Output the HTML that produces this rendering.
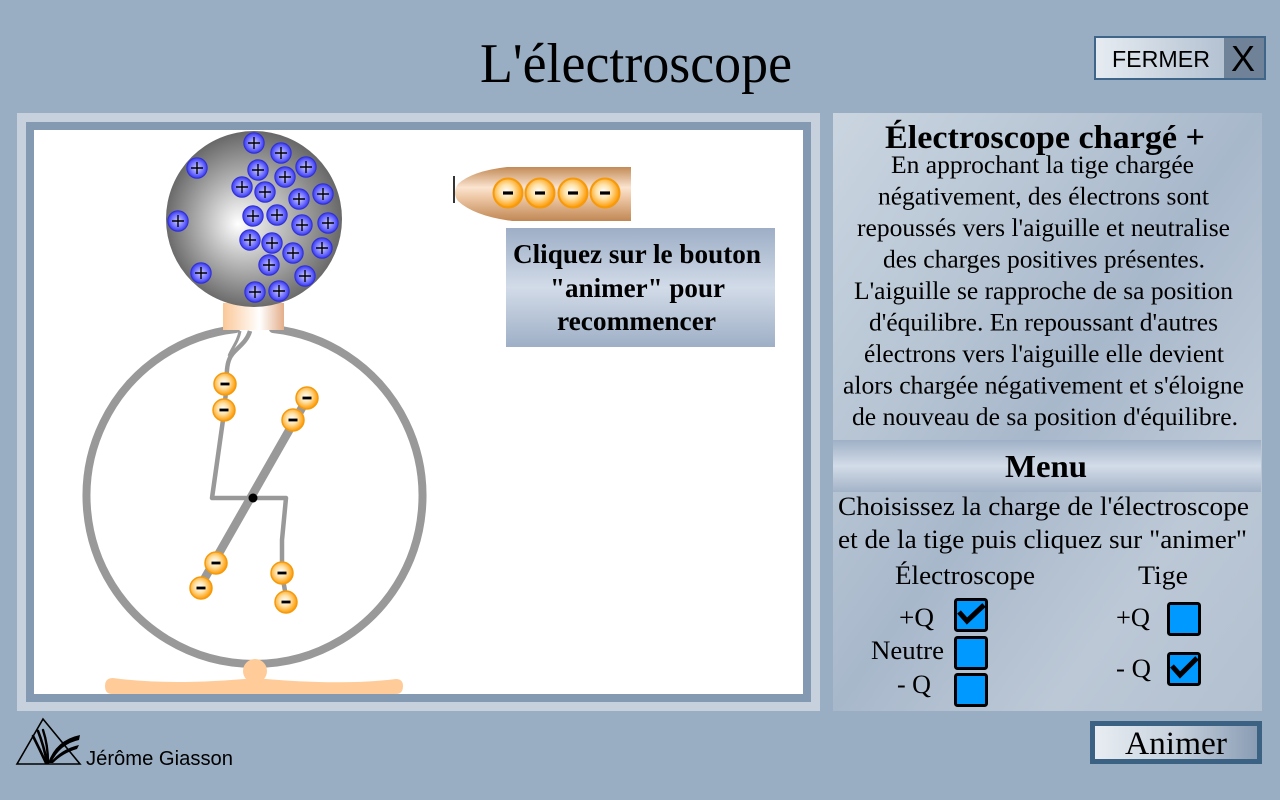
<!DOCTYPE html>
<html><head><meta charset="utf-8"><style>
html,body{margin:0;padding:0;background:#9aaec3;}
svg{display:block;}
</style></head><body>
<svg width="1280" height="800" viewBox="0 0 1280 800" xmlns="http://www.w3.org/2000/svg">
<defs>
<radialGradient id="sph" gradientUnits="userSpaceOnUse" cx="254" cy="220" r="90" fx="238" fy="224">
<stop offset="0" stop-color="#ffffff"/><stop offset="0.45" stop-color="#bababa"/><stop offset="1" stop-color="#666666"/></radialGradient>
<linearGradient id="neck" x1="0" x2="1" y1="0" y2="0">
<stop offset="0" stop-color="#fbc898"/><stop offset="0.6" stop-color="#ffffff"/><stop offset="1" stop-color="#e3ae8a"/></linearGradient>
<linearGradient id="rod" x1="0" x2="0" y1="0" y2="1">
<stop offset="0" stop-color="#c38a56"/><stop offset="0.38" stop-color="#fbe4d0"/><stop offset="0.55" stop-color="#efcaa9"/><stop offset="1" stop-color="#c18754"/></linearGradient>
<linearGradient id="msg" x1="0" x2="0" y1="0" y2="1">
<stop offset="0" stop-color="#9daec6"/><stop offset="0.5" stop-color="#d2dbe8"/><stop offset="1" stop-color="#9eafc6"/></linearGradient>
<linearGradient id="panel" x1="0" y1="0" x2="1" y2="1">
<stop offset="0" stop-color="#cad5e0"/><stop offset="0.3" stop-color="#b7c5d4"/><stop offset="0.5" stop-color="#a8b8cb"/><stop offset="0.75" stop-color="#bcc8d6"/><stop offset="1" stop-color="#b2c0d0"/></linearGradient>
<linearGradient id="band" x1="0" x2="0" y1="0" y2="1">
<stop offset="0" stop-color="#9fb0c6"/><stop offset="0.5" stop-color="#d3dce8"/><stop offset="1" stop-color="#a3b3c8"/></linearGradient>
<linearGradient id="btn1" x1="0" x2="1" y1="0" y2="0">
<stop offset="0" stop-color="#e7ecf2"/><stop offset="1" stop-color="#a3b4c7"/></linearGradient>
<linearGradient id="btn2" x1="0" x2="1" y1="0" y2="0">
<stop offset="0" stop-color="#e9eef3"/><stop offset="0.5" stop-color="#c7d1dd"/><stop offset="1" stop-color="#889bb3"/></linearGradient>
<radialGradient id="eg" cx="0.45" cy="0.45" r="0.55">
<stop offset="0" stop-color="#ffffff"/><stop offset="0.45" stop-color="#ffe2a8"/><stop offset="1" stop-color="#ff9a00"/></radialGradient>
<radialGradient id="pg" cx="0.5" cy="0.5" r="0.55">
<stop offset="0" stop-color="#d0d0ff"/><stop offset="0.55" stop-color="#7878ff"/><stop offset="1" stop-color="#2626ee"/></radialGradient>
<g id="el"><circle r="11" fill="url(#eg)" stroke="#f59a0c" stroke-width="1.5"/><rect x="-4.5" y="-1.4" width="9" height="2.8" fill="#000"/></g>
<g id="elb"><circle r="14.5" fill="url(#eg)" stroke="#f59a0c" stroke-width="2"/><rect x="-5" y="-1.6" width="10" height="3.2" fill="#000"/></g>
<g id="pr"><circle r="10.2" fill="url(#pg)" stroke="#3030d0" stroke-width="1"/><path d="M-6 0H6M0 -6V6" stroke="#000" stroke-width="1.4"/></g>
</defs>

<!-- title -->
<text x="480" y="82" font-family="Liberation Serif, serif" font-size="56" textLength="312" lengthAdjust="spacingAndGlyphs" fill="#000">L'électroscope</text>

<!-- FERMER button -->
<rect x="1095" y="37" width="170" height="42" fill="url(#btn1)" stroke="#3f6589" stroke-width="2"/>
<rect x="1224" y="38" width="40" height="40" fill="#6f8298"/>
<text x="1112" y="67" font-family="Liberation Sans, sans-serif" font-size="23" textLength="98" lengthAdjust="spacingAndGlyphs" fill="#000">FERMER</text>
<text x="1231" y="71" font-family="Liberation Sans, sans-serif" font-size="36" fill="#000">X</text>

<!-- left frame -->
<rect x="17" y="113" width="803" height="598" fill="#c6d1dd"/>
<rect x="26" y="122" width="785" height="580" fill="#8499b2"/>
<rect x="34" y="130" width="769" height="564" fill="#ffffff"/>

<!-- ring -->
<path d="M 273 329 A 168 168 0 1 1 236 329" fill="none" stroke="#999999" stroke-width="8" stroke-linecap="round"/>
<!-- base -->
<circle cx="255" cy="671" r="12" fill="#ffcc99"/>
<path d="M 113 678 Q 170 686 255 678 Q 340 686 396 679 Q 403 679 403 686 Q 403 694 396 694 L 112 694 Q 105 694 105 686 Q 105 678 113 678 Z" fill="#ffcc99"/>

<!-- neck -->
<rect x="223" y="303" width="61" height="27" fill="url(#neck)"/>
<!-- sphere -->
<circle cx="254" cy="219" r="88" fill="url(#sph)"/>

<!-- stem -->
<path d="M 250 331 C 246 345 232 350 229 360 C 226 368 227 378 226 392 L 223 420 L 212 498 L 286 498 L 282 540 L 282 574 L 287 602" fill="none" stroke="#999999" stroke-width="4.5" stroke-linejoin="round"/>
<path d="M 240 331 C 238 342 232 348 229 356" fill="none" stroke="#999999" stroke-width="3"/>
<!-- needle -->
<line x1="198" y1="590" x2="307" y2="399" stroke="#999999" stroke-width="8.5"/>
<circle cx="253" cy="498" r="4.5" fill="#000"/>

<!-- electrons on leaves -->
<use href="#el" x="225" y="384"/>
<use href="#el" x="224" y="410"/>
<use href="#el" x="307" y="398"/>
<use href="#el" x="293" y="420"/>
<use href="#el" x="216" y="563"/>
<use href="#el" x="201" y="588"/>
<use href="#el" x="282" y="573"/>
<use href="#el" x="286" y="602"/>

<!-- protons -->
<use href="#pr" x="254" y="143"/><use href="#pr" x="281" y="153"/><use href="#pr" x="197" y="168"/>
<use href="#pr" x="258" y="170"/><use href="#pr" x="306" y="167"/><use href="#pr" x="285" y="177"/>
<use href="#pr" x="242" y="187"/><use href="#pr" x="265" y="192"/><use href="#pr" x="299" y="199"/>
<use href="#pr" x="323" y="194"/><use href="#pr" x="178" y="221"/><use href="#pr" x="253" y="216"/>
<use href="#pr" x="277" y="215"/><use href="#pr" x="302" y="225"/><use href="#pr" x="328" y="223"/>
<use href="#pr" x="250" y="240"/><use href="#pr" x="272" y="243"/><use href="#pr" x="293" y="253"/>
<use href="#pr" x="322" y="248"/><use href="#pr" x="269" y="265"/><use href="#pr" x="305" y="276"/>
<use href="#pr" x="201" y="273"/><use href="#pr" x="255" y="292"/><use href="#pr" x="279" y="291"/>

<!-- rod -->
<path d="M 631 167 L 507 167 Q 472 171 458 184 Q 452 193 458 201 Q 474 216 512 221 L 631 221 Z" fill="url(#rod)"/>
<line x1="454" y1="176" x2="454" y2="203" stroke="#000" stroke-width="1.6"/>
<use href="#elb" x="508" y="193"/>
<use href="#elb" x="540" y="193"/>
<use href="#elb" x="573" y="193"/>
<use href="#elb" x="605" y="193"/>

<!-- message box -->
<rect x="506" y="228" width="269" height="119" fill="url(#msg)"/>
<g font-family="Liberation Serif, serif" font-weight="bold" font-size="27" fill="#000">
<text x="513" y="263" textLength="248" lengthAdjust="spacingAndGlyphs">Cliquez sur le bouton</text>
<text x="550" y="297" textLength="175" lengthAdjust="spacingAndGlyphs">"animer" pour</text>
<text x="557" y="330" textLength="159" lengthAdjust="spacingAndGlyphs">recommencer</text>
</g>

<!-- right panel -->
<rect x="833" y="113" width="429" height="598" fill="url(#panel)"/>
<rect x="833" y="440" width="428" height="52" fill="url(#band)"/>
<g font-family="Liberation Serif, serif" fill="#000">
<text x="885" y="148" font-size="33" font-weight="bold" textLength="320" lengthAdjust="spacingAndGlyphs">Électroscope chargé +</text>
<g font-size="25">
<text x="891" y="173" textLength="303" lengthAdjust="spacingAndGlyphs">En approchant la tige chargée</text>
<text x="878" y="204.5" textLength="331" lengthAdjust="spacingAndGlyphs">négativement, des électrons sont</text>
<text x="857" y="236" textLength="373" lengthAdjust="spacingAndGlyphs">repoussés vers l'aiguille et neutralise</text>
<text x="883" y="267.5" textLength="322" lengthAdjust="spacingAndGlyphs">des charges positives présentes.</text>
<text x="854" y="299" textLength="379" lengthAdjust="spacingAndGlyphs">L'aiguille se rapproche de sa position</text>
<text x="869" y="330.5" textLength="349" lengthAdjust="spacingAndGlyphs">d'équilibre. En repoussant d'autres</text>
<text x="864" y="362" textLength="360" lengthAdjust="spacingAndGlyphs">électrons vers l'aiguille elle devient</text>
<text x="843" y="393.5" textLength="401" lengthAdjust="spacingAndGlyphs">alors chargée négativement et s'éloigne</text>
<text x="852" y="425" textLength="386" lengthAdjust="spacingAndGlyphs">de nouveau de sa position d'équilibre.</text>
</g>
<text x="1005" y="477" font-size="32" font-weight="bold" textLength="82" lengthAdjust="spacingAndGlyphs">Menu</text>
<g font-size="26.5">
<text x="838" y="515" textLength="411" lengthAdjust="spacingAndGlyphs">Choisissez la charge de l'électroscope</text>
<text x="838" y="548" textLength="409" lengthAdjust="spacingAndGlyphs">et de la tige puis cliquez sur "animer"</text>
<text x="895" y="584" textLength="140" lengthAdjust="spacingAndGlyphs">Électroscope</text>
<text x="1138" y="584" textLength="50" lengthAdjust="spacingAndGlyphs">Tige</text>
<text x="899" y="626" textLength="35" lengthAdjust="spacingAndGlyphs">+Q</text>
<text x="871" y="659" textLength="73" lengthAdjust="spacingAndGlyphs">Neutre</text>
<text x="897" y="693" textLength="34" lengthAdjust="spacingAndGlyphs">- Q</text>
<text x="1116" y="626" textLength="34" lengthAdjust="spacingAndGlyphs">+Q</text>
<text x="1116" y="677" textLength="35" lengthAdjust="spacingAndGlyphs">- Q</text>
</g>
</g>

<!-- checkboxes -->
<g fill="#0099ff" stroke="#000" stroke-width="3">
<rect x="955.5" y="599.5" width="31" height="31" rx="2"/>
<rect x="955.5" y="637.5" width="31" height="31" rx="2"/>
<rect x="955.5" y="674.5" width="31" height="31" rx="2"/>
<rect x="1168.5" y="603.5" width="31" height="31" rx="2"/>
<rect x="1168.5" y="653.5" width="31" height="31" rx="2"/>
</g>
<g fill="none" stroke="#000" stroke-width="5" stroke-linejoin="miter">
<polyline points="959,612 967,621 984,605"/>
<polyline points="1172,666 1180,675 1197,658"/>
</g>

<!-- Animer button -->
<rect x="1092.5" y="723.5" width="167" height="38" fill="url(#btn2)" stroke="#3c6283" stroke-width="5"/>
<text x="1125" y="754" font-family="Liberation Serif, serif" font-size="33" textLength="102" lengthAdjust="spacingAndGlyphs" fill="#000">Animer</text>

<!-- logo -->
<path d="M 43 719 L 17 764 L 80 764 Z" fill="none" stroke="#000" stroke-width="1.6"/>
<g fill="none" stroke="#000" stroke-linecap="round">
<path d="M 46 763 Q 40 750 33 736" stroke-width="2.6"/>
<path d="M 47 763 Q 44 746 38 731" stroke-width="2.6"/>
<path d="M 48 763 Q 48 745 43 730" stroke-width="2.4"/>
</g>
<path d="M 48 763 Q 56 740 80 735 L 79 740 Q 60 744 51 763 Z" fill="#000"/>
<path d="M 50 763 Q 61 749 79 745 L 77 749 Q 63 753 53 763 Z" fill="#000"/>
<text x="86" y="765" font-family="Liberation Sans, sans-serif" font-size="20" textLength="147" lengthAdjust="spacingAndGlyphs" fill="#000">Jérôme Giasson</text>
</svg>
</body></html>
